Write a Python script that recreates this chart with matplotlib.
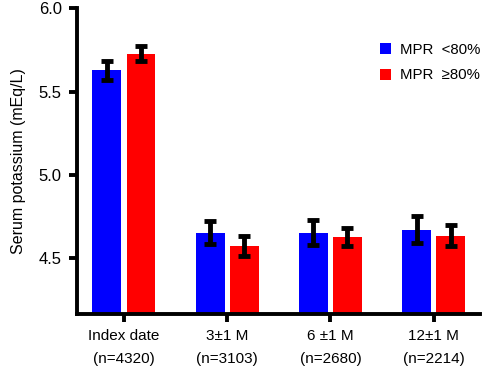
import matplotlib.pyplot as plt
import numpy as np

plt.rcParams['font.family'] = ['Liberation Sans', 'DejaVu Sans']

# data
groups = ['Index date\n(n=4320)', '3\u00b11 M\n(n=3103)', '6 \u00b11 M\n(n=2680)', '12\u00b11 M\n(n=2214)']
low_mpr = [5.628, 4.654, 4.654, 4.672]
low_err = [0.058, 0.070, 0.073, 0.080]
high_mpr = [5.728, 4.572, 4.626, 4.636]
high_err = [0.043, 0.060, 0.055, 0.062]

x = np.arange(len(groups))
w = 0.28

fig = plt.figure(figsize=(4.84, 3.71), dpi=100)
ax = fig.add_axes([0.159, 0.154, 0.833, 0.824])

bottom = 4.166
ekw = dict(elinewidth=3.5, capthick=3.5, capsize=4.5, ecolor='black')
ax.bar(x - 0.165, np.array(low_mpr) - bottom, w, bottom=bottom, color='#0000ff',
       yerr=low_err, error_kw=ekw, label='MPR  <80%')
ax.bar(x + 0.165, np.array(high_mpr) - bottom, w, bottom=bottom, color='#ff0000',
       yerr=high_err, error_kw=ekw, label='MPR  \u226580%')

ax.set_ylim(bottom, 6.0)
ax.set_xlim(-0.455, 3.45)
ax.set_yticks([4.5, 5.0, 5.5, 6.0])
ax.set_yticklabels(['4.5', '5.0', '5.5', '6.0'], fontsize=12)
ax.set_xticks(x)
ax.set_xticklabels(groups, linespacing=1.85, fontsize=11)
ax.set_ylabel('Serum potassium (mEq/L)', fontsize=11.5, labelpad=9)

for s in ['top', 'right']:
    ax.spines[s].set_visible(False)
for s in ['left', 'bottom']:
    ax.spines[s].set_linewidth(2.8)
ax.tick_params(width=2.8, length=6, pad=5)

ax.legend(loc='upper right', bbox_to_anchor=(1.035, 0.93), frameon=False,
          fontsize=10.8, handlelength=0.75, handleheight=0.75, handletextpad=0.6,
          labelspacing=0.75)

fig.savefig('out.png', dpi=100)
